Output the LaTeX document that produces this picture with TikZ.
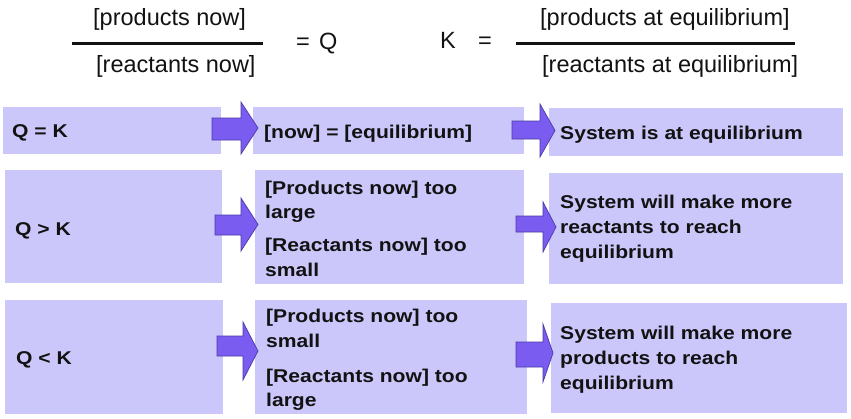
\documentclass[tikz,border=0pt]{standalone}
\usepackage{fontspec}
\setmainfont{Liberation Sans}
\newfontfamily\bfam{Liberation Sans}[FakeStretch=1.14]
\definecolor{boxfill}{RGB}{204,199,250}
\definecolor{arrowfill}{RGB}{123,92,240}
\definecolor{arrowline}{RGB}{72,60,165}
\definecolor{txt}{RGB}{18,18,18}
\begin{document}
\begin{tikzpicture}[x=1pt,y=-1pt,
  box/.style={fill=boxfill, draw=none},
  bt/.style={anchor=base west, inner sep=0pt, text=txt, font=\bfam\bfseries\fontsize{18.5}{24}\selectfont},
  rt/.style={anchor=base west, inner sep=0pt, text=txt, font=\fontsize{23.5}{28}\selectfont},
  barrow/.style={fill=arrowfill, draw=arrowline, line width=0.7pt, line join=miter},
  fracline/.style={draw=txt, line width=3pt}]
\useasboundingbox (0,0) rectangle (851,418);
% formula
\node[rt] (pn) at (93,25) {[products now]};
\node[rt] (rn) at (96,72) {[reactants now]};
\coordinate (f1a) at (72,43); \coordinate (f1b) at (263,43);
\draw[fracline] (f1a) -- (f1b);
\node[rt] (eqQ) at (296,49) {=};
\node[rt] (Q) at (319,49) {Q};
\node[rt] (K) at (440,48) {K};
\node[rt] (eqK) at (478,48) {=};
\node[rt] (pe) at (540,25) {[products at equilibrium]};
\node[rt] (re) at (542,72) {[reactants at equilibrium]};
\coordinate (f2a) at (516,43); \coordinate (f2b) at (795,43);
\draw[fracline] (f2a) -- (f2b);
% boxes
\fill[box] (3,107) rectangle (221,154);
\fill[box] (253,107) rectangle (524,154);
\fill[box] (549,108) rectangle (843,156);
\fill[box] (5,170) rectangle (222,283);
\fill[box] (255,170) rectangle (524,284);
\fill[box] (549,173) rectangle (843,284);
\fill[box] (5,300) rectangle (223,414);
\fill[box] (255,300) rectangle (527,414);
\fill[box] (551,303) rectangle (847,413);
% block arrows
\draw[barrow] (212,118) -- (241,118) -- (241,102) -- (258,128) -- (241,154) -- (241,140) -- (212,140) -- cycle;
\draw[barrow] (512,121) -- (540,121) -- (540,104) -- (555,130.5) -- (540,157) -- (540,139) -- (512,139) -- cycle;
\draw[barrow] (215,215) -- (241,215) -- (241,198) -- (258,224.5) -- (241,251) -- (241,235) -- (215,235) -- cycle;
\draw[barrow] (516,216) -- (543,216) -- (543,202) -- (556,227) -- (543,252) -- (543,232) -- (516,232) -- cycle;
\draw[barrow] (217,336) -- (243,336) -- (243,322) -- (258,351) -- (243,380) -- (243,356) -- (217,356) -- cycle;
\draw[barrow] (516,342) -- (543,342) -- (543,324) -- (553,353) -- (543,382) -- (543,367) -- (516,367) -- cycle;
% row 1
\node[bt] (a1) at (12,137.5) {Q = K};
\node[bt] (b1) at (264,138) {[now] = [equilibrium]};
\node[bt] (c1) at (560,139) {System is at equilibrium};
% row 2
\node[bt] (a2) at (15,235) {Q > K};
\node[bt] (b2a) at (265,194) {[Products now] too};
\node[bt] (b2b) at (265,218.5) {large};
\node[bt] (b2c) at (265,251) {[Reactants now] too};
\node[bt] (b2d) at (265,276) {small};
\node[bt] (c2a) at (560,208.5) {System will make more};
\node[bt] (c2b) at (560,233.5) {reactants to reach};
\node[bt] (c2c) at (560,258) {equilibrium};
% row 3
\node[bt] (a3) at (16,364) {Q < K};
\node[bt] (b3a) at (266,322) {[Products now] too};
\node[bt] (b3b) at (266,347) {small};
\node[bt] (b3c) at (266,382) {[Reactants now] too};
\node[bt] (b3d) at (266,406.5) {large};
\node[bt] (c3a) at (560,339) {System will make more};
\node[bt] (c3b) at (560,364) {products to reach};
\node[bt] (c3c) at (560,389) {equilibrium};
\end{tikzpicture}
\end{document}
